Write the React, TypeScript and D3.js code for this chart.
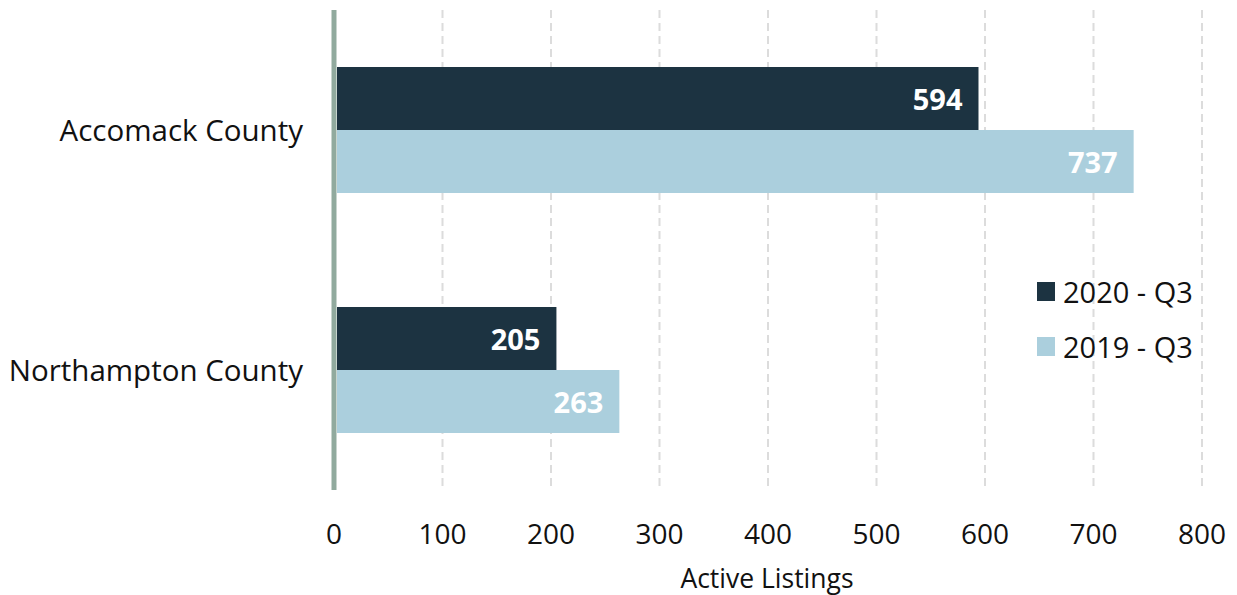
import React from "react";
import * as d3 from "d3";

const categories = ["Accomack County", "Northampton County"];
const seriesNames = ["2020 - Q3", "2019 - Q3"];
const values2020 = [594, 205];
const values2019 = [737, 263];
const ticks = [0, 100, 200, 300, 400, 500, 600, 700, 800];
const colors = ["#1c3341", "#abcfdd"];

export default function App() {
  const W = 1237, H = 595;
  const top = 10, bottom = 490;
  const x = d3.scaleLinear().domain([0, 800]).range([334, 1202]);
  const y0 = d3.scaleBand<string>().domain(categories).range([top, bottom]).padding(0);
  const y1 = d3.scaleBand<string>().domain(seriesNames).range([0, y0.bandwidth()]).paddingInner(0).paddingOuter(0.905);
  const series = [values2020, values2019];
  const font = "'Open Sans', sans-serif";
  return (
    <div style={{ position: "absolute", left: 0, top: 0 }}>
      <svg width={W} height={H} style={{ display: "block", background: "#fff" }} fontFamily={font}>
        {ticks.slice(1).map((t) => (
          <line key={t} x1={x(t)} x2={x(t)} y1={top} y2={bottom} stroke="#dcdcdc" strokeWidth={2} strokeDasharray="8,5" />
        ))}
        {categories.map((c, i) => (
          <g key={c}>
            {series.map((vals, s) => {
              const yy = (y0(c) as number) + (y1(seriesNames[s]) as number);
              return (
                <g key={s}>
                  <rect x={x(0) + 3} y={yy} width={x(vals[i]) - x(0) - 3} height={y1.bandwidth()} fill={colors[s]} />
                  <text x={x(vals[i]) - 16} y={yy + y1.bandwidth() / 2} textAnchor="end" dominantBaseline="central" fill="#fff" fontWeight="bold" fontSize={29}>
                    {vals[i]}
                  </text>
                </g>
              );
            })}
            <text x={303} y={(y0(c) as number) + y0.bandwidth() / 2 - 1} textAnchor="end" dominantBaseline="central" fill="#111" fontSize={29.5}>
              {c}
            </text>
          </g>
        ))}
        <line x1={x(0)} x2={x(0)} y1={top} y2={bottom} stroke="#91aa9e" strokeWidth={5} />
        {ticks.map((t) => (
          <text key={t} x={x(t)} y={533} textAnchor="middle" dominantBaseline="central" fill="#111" fontSize={28}>
            {t}
          </text>
        ))}
        <text x={767} y={578} textAnchor="middle" dominantBaseline="central" fill="#111" fontSize={26.5}>
          Active Listings
        </text>
        {seriesNames.map((n, s) => (
          <g key={n}>
            <rect x={1037} y={282 + s * 55} width={18} height={19} fill={colors[s]} />
            <text x={1063} y={291 + s * 55} dominantBaseline="central" fill="#111" fontSize={29}>
              {n}
            </text>
          </g>
        ))}
      </svg>
    </div>
  );
}
